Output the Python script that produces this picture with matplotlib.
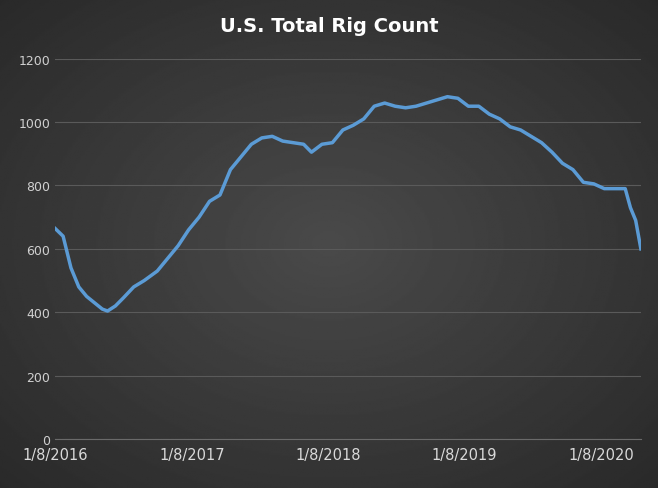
import matplotlib
matplotlib.use("Agg")
import matplotlib.pyplot as plt
import matplotlib.dates as mdates
import numpy as np
import pandas as pd

dates = ["2016-01-08","2016-01-29","2016-02-19","2016-03-11","2016-04-01","2016-04-22","2016-05-13","2016-05-27","2016-06-17","2016-07-08",
         "2016-08-05","2016-09-02","2016-10-07","2016-11-04","2016-12-02","2016-12-30",
         "2017-01-27","2017-02-24","2017-03-24","2017-04-21","2017-05-19","2017-06-16","2017-07-14","2017-08-11","2017-09-08",
         "2017-10-06","2017-11-03","2017-11-24","2017-12-22",
         "2018-01-19","2018-02-16","2018-03-16","2018-04-13","2018-05-11","2018-06-08","2018-07-06","2018-08-03","2018-08-31",
         "2018-09-28","2018-10-26","2018-11-23","2018-12-21",
         "2019-01-18","2019-02-15","2019-03-15","2019-04-12","2019-05-10","2019-06-07","2019-07-05","2019-08-02","2019-08-30",
         "2019-09-27","2019-10-25","2019-11-22","2019-12-20",
         "2020-01-17","2020-02-14","2020-03-13","2020-03-27","2020-04-10","2020-04-24"]
rigs = [664,640,540,480,450,430,410,404,420,445,
        480,500,530,570,610,660,
        700,750,770,850,890,930,950,955,940,
        935,930,905,930,
        935,975,990,1010,1050,1060,1050,1045,1050,
        1060,1070,1080,1075,
        1050,1050,1025,1010,985,975,955,935,905,
        870,850,810,805,
        790,790,790,730,690,600]
xticks = ["2016-01-08","2017-01-08","2018-01-08","2019-01-08","2020-01-08"]
xlabels = ["1/8/2016","1/8/2017","1/8/2018","1/8/2019","1/8/2020"]

d = pd.to_datetime(dates)
fig = plt.figure(figsize=(6.58,4.89), dpi=100)
bg = fig.add_axes([0,0,1,1]); bg.axis("off")
yy, xx = np.mgrid[-1:1:300j, -1:1:400j]
r = np.sqrt(xx**2+yy**2)
bg.imshow(np.clip(0.29-0.09*r,0,1), cmap="gray", vmin=0, vmax=1, aspect="auto", extent=[0,1,0,1])
bg.set_xlim(0,1); bg.set_ylim(0,1)

ax = fig.add_axes([0.084, 0.1, 0.89, 0.778])
ax.patch.set_alpha(0)
ax.plot(d, rigs, color="#5b9bd5", lw=2.5)
ax.set_ylim(0,1200)
ax.set_yticks(range(0,1201,200))
ax.set_xlim(pd.Timestamp("2016-01-08"), pd.Timestamp("2020-04-24"))
ax.set_xticks(pd.to_datetime(xticks)); ax.set_xticklabels(xlabels)
ax.grid(axis="y", color="#5a5a5a", lw=0.8)
for s in ax.spines.values(): s.set_visible(False)
ax.spines["bottom"].set_visible(True); ax.spines["bottom"].set_color("#6a6a6a")
ax.tick_params(axis="y", length=0, colors="#d0d0d0", labelsize=9)
ax.tick_params(axis="x", length=0, colors="#d9d9d9", labelsize=10.5, pad=6)
fig.text(0.5, 0.945, "U.S. Total Rig Count", ha="center", va="center", color="white", fontsize=14, fontweight="bold")
fig.savefig("out.png", dpi=100)
